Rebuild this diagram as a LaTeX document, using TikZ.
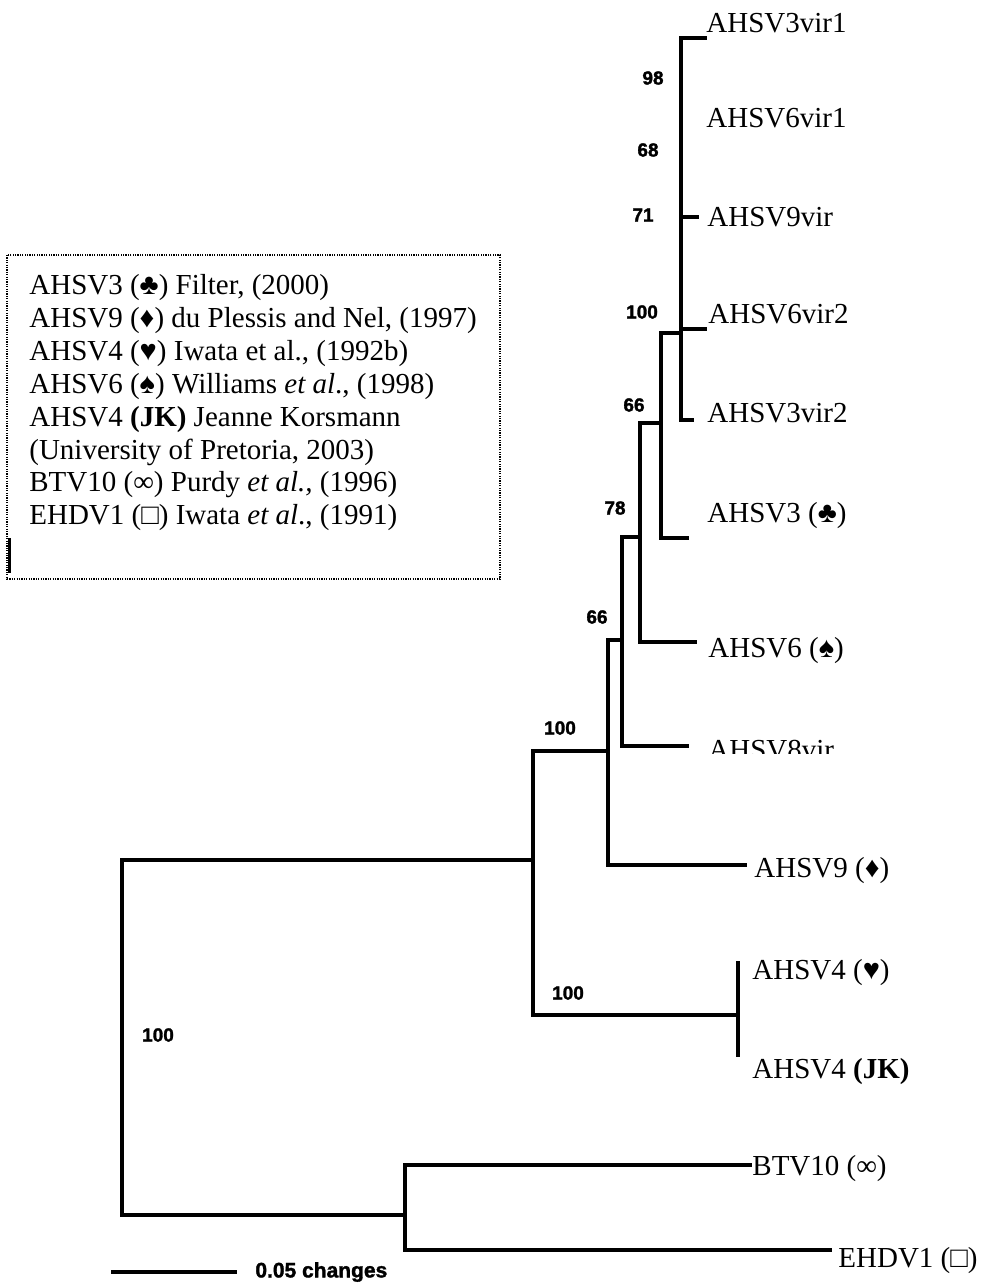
\documentclass[tikz,border=0pt]{standalone}
\usepackage{fontspec}
\setmainfont{Liberation Serif}
\newfontfamily\bootfont[FakeBold=1.6]{Liberation Sans Bold}
\usetikzlibrary{positioning}

\tikzset{
  branch/.style={line width=2pt, line cap=rect},
  taxon/.style={anchor=base west, inner sep=0pt, font=\fontsize{14.5}{16}\selectfont},
  boot/.style={inner sep=0pt, font=\bootfont\fontsize{9.5}{10}\selectfont},
  keyframe/.style={line width=0.6pt, dash pattern=on 0.6pt off 0.6pt},
}

\begin{document}
\begin{tikzpicture}[x=0.5pt, y=-0.5pt]
    \useasboundingbox (0,0) rectangle (981,1283);

    % internal nodes of the tree
    \coordinate (root) at (122,1035);
    \coordinate (g) at (533,860);
    \coordinate (f) at (608,751);
    \coordinate (e) at (622,640);
    \coordinate (d) at (640,537);
    \coordinate (c) at (661,423);
    \coordinate (b) at (681,333);
    \coordinate (h) at (738,1015);
    \coordinate (i) at (405,1215);

    % branch tips
    \coordinate (t1) at (705,38);
    \coordinate (t3) at (697,217);
    \coordinate (t4) at (705,329);
    \coordinate (t5) at (692,420);
    \coordinate (t6) at (687,538);
    \coordinate (t7) at (695,642);
    \coordinate (t8) at (687,746);
    \coordinate (t9) at (745,865);
    \coordinate (t10) at (738,963);
    \coordinate (t11) at (738,1055);
    \coordinate (t12) at (750,1165);
    \coordinate (t13) at (830,1250);

    \draw[branch] (root) |- (g);
    \draw[branch] (root) |- (i);
    \draw[branch] (g) |- (f);
    \draw[branch] (g) |- (h);
    \draw[branch] (f) |- (e);
    \draw[branch] (f) |- (t9);
    \draw[branch] (e) |- (d);
    \draw[branch] (e) |- (t8);
    \draw[branch] (d) |- (c);
    \draw[branch] (d) |- (t7);
    \draw[branch] (c) |- (b);
    \draw[branch] (c) |- (t6);
    \foreach \t in {t1,t3,t4,t5}
        \draw[branch, line width=2.4pt] (b) |- (\t);
    \draw[branch] (h) |- (t10);
    \draw[branch] (h) |- (t11);
    \draw[branch] (i) |- (t12);
    \draw[branch] (i) |- (t13);

    % taxa
    \node[taxon] (l1) at (706,33) {AHSV3vir1};
    \node[taxon] (l2) at (706,128) {AHSV6vir1};
    \node[taxon] (l3) at (707,227) {AHSV9vir};
    \node[taxon] (l4) at (708,323) {AHSV6vir2};
    \node[taxon] (l5) at (707,422) {AHSV3vir2};
    \node[taxon] (l6) at (707,522) {AHSV3 (♣)};
    \node[taxon] (l7) at (708,657) {AHSV6 (♠)};
    \begin{scope}
        \clip (700,720) rectangle (900,753);
        \node[taxon] (l8) at (708,759) {AHSV8vir};
    \end{scope}
    \node[taxon] (l9) at (754,877) {AHSV9 (♦)};
    \node[taxon] (l10) at (752,979) {AHSV4 (♥)};
    \node[taxon] (l11) at (752,1078) {AHSV4 \textbf{(JK)}};
    \node[taxon] (l12) at (752,1175) {BTV10 (∞)};
    \node[taxon] (l13) at (838,1267) {EHDV1 (□)};

    % bootstrap values
    \node[boot] (bs1) at (653,78) {98};
    \node[boot] (bs2) at (648,150) {68};
    \node[boot] (bs3) at (643,215) {71};
    \node[boot] (bs4) at (642,312) {100};
    \node[boot] (bs5) at (634,405) {66};
    \node[boot] (bs6) at (615,508) {78};
    \node[boot] (bs7) at (597,617) {66};
    \node[boot] (bs8) at (560,728) {100};
    \node[boot] (bs9) at (568,993) {100};
    \node[boot] (bs10) at (158,1035) {100};

    % scale bar
    \coordinate (sb0) at (113,1272);
    \coordinate (sb1) at (235,1272);
    \draw[branch] (sb0) -- (sb1);
    \node[inner sep=0pt, font=\bootfont\fontsize{10.5}{11}\selectfont, right=10pt of sb1] (sblab) {0.05 changes};

    % key
    \draw[keyframe] (7,255) rectangle (500,579);
    \draw[line width=1.5pt] (9,538) -- (9,573);
    \node[anchor=north west, inner sep=0pt, align=left, font=\fontsize{14.5}{16.45}\selectfont] (key) at (29,274) {%
        AHSV3 (♣) Filter, (2000)\\
        AHSV9 (♦) du Plessis and Nel, (1997)\\
        AHSV4 (♥) Iwata et al., (1992b)\\
        AHSV6 (♠) Williams \textit{et al}., (1998)\\
        AHSV4 \textbf{(JK)} Jeanne Korsmann\\
        (University of Pretoria, 2003)\\
        BTV10 (∞) Purdy \textit{et al.,} (1996)\\
        EHDV1 (□) Iwata \textit{et al}., (1991)};
\end{tikzpicture}
\end{document}
